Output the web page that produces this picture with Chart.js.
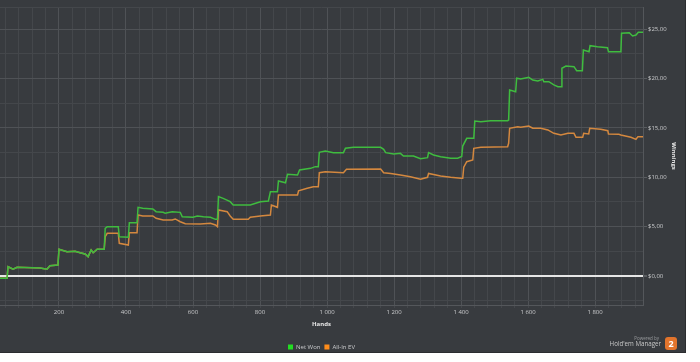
<!DOCTYPE html>
<html>
<head>
<meta charset="utf-8">
<title>Winnings</title>
<script src="https://cdn.jsdelivr.net/npm/chart.js@4"></script>
<style>
  body { margin: 0; background: #ffffff; }
  #panel {
    position: absolute; left: 0; top: 0;
    width: 686px; height: 353px;
    box-sizing: border-box;
    border-right: 1px solid #2b2d30;
    border-bottom: 1px solid #2b2d30;
    background: #383b3f;
    overflow: hidden;
    font-family: 'Open Sans', sans-serif;
  }
  #chart { position: absolute; left: 0; top: 0; }
  #logo { position: absolute; right: 4px; bottom: 0; width: 80px; height: 18px; }
  #logo .pw { position: absolute; right: 22px; top: 1px; font-size: 4.5px; color: #9a9c9f; }
  #logo .hm { position: absolute; right: 20px; top: 5px; font-size: 6.2px; color: #c8c8c8; white-space: nowrap; }
  #logo .badge {
    position: absolute; right: 4px; top: 3px; width: 12px; height: 13px;
    background: #e2742c; border-radius: 3px;
    color: #fff; font-weight: bold; font-size: 9px; line-height: 13px; text-align: center;
  }
</style>
</head>
<body>
<div id="panel">
  <canvas id="chart" width="685" height="360"></canvas>
  <div id="logo">
    <div class="pw">Powered by</div>
    <div class="hm">Hold'em Manager</div>
    <div class="badge">2</div>
  </div>
</div>
<script>
// hands played -> cumulative winnings ($)
const netWonHands = [24, 45, 48, 63, 75, 144, 164, 173, 197, 200, 224, 248, 263, 278, 287, 296, 302, 314, 335,
  338, 344, 377, 380, 407, 410, 433, 436, 450, 480, 490, 511, 517, 538, 562, 568, 600, 613, 631, 652, 667, 673,
  676, 690, 711, 720, 771, 780, 801, 825, 831, 852, 855, 876, 882, 912, 918, 951, 965, 974, 977, 995, 1019, 1049,
  1055, 1079, 1160, 1169, 1175, 1199, 1219, 1228, 1258, 1279, 1300, 1303, 1318, 1339, 1369, 1390, 1402, 1405,
  1417, 1438, 1441, 1459, 1488, 1539, 1542, 1545, 1563, 1566, 1578, 1602, 1614, 1629, 1644, 1647, 1662, 1677,
  1689, 1700, 1701, 1713, 1737, 1745, 1762, 1765, 1782, 1785, 1807, 1837, 1840, 1877, 1879, 1902, 1912, 1922,
  1929, 1943];
const netWonValues = [-0.23, -0.23, 0.94, 0.68, 0.88, 0.81, 0.68, 1.04, 1.11, 2.71, 2.46, 2.50, 2.35, 2.23, 1.96, 2.63, 2.36, 2.71, 2.71,
  4.83, 5.00, 5.00, 3.98, 3.92, 5.40, 5.40, 6.96, 6.86, 6.80, 6.52, 6.45, 6.35, 6.52, 6.45, 6.00, 5.95, 6.08, 6.00, 5.95, 5.74, 5.74,
  8.04, 7.87, 7.53, 7.20, 7.20, 7.30, 7.53, 7.60, 8.54, 8.54, 9.63, 9.45, 10.31, 10.24, 10.74, 10.91, 11.08, 11.08, 12.54, 12.67, 12.50, 12.50,
  12.94, 13.04, 13.04, 12.84, 12.50, 12.36, 12.43, 12.16, 12.16, 11.89, 11.99, 12.50, 12.26, 12.09, 11.93, 11.93, 12.11, 13.17,
  13.95, 13.95, 15.71, 15.64, 15.74, 15.74, 15.81, 18.85, 18.68, 20.04, 19.96, 20.14, 19.86, 19.76, 19.93, 19.69, 19.69, 19.36,
  19.18, 19.18, 21.05, 21.28, 21.21, 20.81, 20.81, 22.90, 22.73, 23.34, 23.24, 23.14, 22.73, 22.73, 24.60, 24.66, 24.32, 24.42,
  24.70, 24.70];

const allInHands = [24, 45, 48, 63, 75, 144, 164, 173, 197, 200, 224, 248, 263, 278, 287, 296, 302, 314, 335,
  338, 344, 377, 380, 407, 410, 433, 436, 450, 480, 490, 511, 538, 547, 562, 577, 622, 652, 667, 673,
  676, 702, 711, 720, 765, 771, 801, 831, 834, 852, 855, 882, 912, 915, 941, 959, 974, 977, 995, 1049, 1058,
  1160, 1169, 1190, 1219, 1249, 1279, 1300, 1303, 1339, 1369, 1399, 1405, 1408, 1417, 1435, 1438, 1459, 1539,
  1542, 1545, 1569, 1578, 1602, 1614, 1638, 1659, 1677, 1698, 1719, 1737, 1743, 1763, 1766, 1781, 1784, 1817,
  1838, 1840, 1871, 1877, 1907, 1922, 1928, 1943];
const allInValues = [-0.23, -0.23, 0.94, 0.68, 0.88, 0.81, 0.68, 1.04, 1.11, 2.71, 2.46, 2.50, 2.35, 2.23, 1.96, 2.63, 2.36, 2.71, 2.71,
  3.98, 4.33, 4.33, 3.31, 3.14, 4.39, 4.39, 6.18, 6.08, 6.08, 5.85, 5.68, 5.68, 5.78, 5.50, 5.30, 5.27, 5.34, 5.17, 5.00,
  6.69, 6.52, 6.08, 5.75, 5.75, 5.95, 6.08, 6.18, 7.20, 6.96, 8.21, 8.21, 8.21, 8.64, 8.89, 9.05, 9.05, 10.47, 10.57, 10.47, 10.81,
  10.84, 10.47, 10.39, 10.24, 10.06, 9.80, 10.00, 10.39, 10.13, 10.00, 9.90, 9.90, 11.02, 11.58, 11.76, 12.94, 13.04, 13.10,
  13.45, 14.97, 15.13, 15.07, 15.20, 14.97, 14.97, 14.80, 14.46, 14.29, 14.46, 14.46, 14.06, 14.06, 14.46, 14.39, 14.97, 14.87,
  14.72, 14.39, 14.36, 14.29, 14.06, 13.85, 14.12, 14.12];

// visible window and grid
const handsMin = 24, handsMax = 1943;
const winMin = -2.94, winMax = 27.26;
const handsGrid = [];
for (let h = 40; h <= 1920; h += 40) handsGrid.push(h);
const winGrid = [-2.5, 0, 2.5, 5, 7.5, 10, 12.5, 15, 17.5, 20, 22.5, 25];

const textColor = '#c9cacc';
const minorGrid = '#44474b';
const majorGrid = '#4f5256';
const tickFont = { family: "'Open Sans', sans-serif", size: 6 };

function fmtHands(v) {
  return String(v).replace(/\B(?=(\d{3})+(?!\d))/g, ' ');
}
function fmtMoney(v) {
  return '$' + v.toFixed(2).replace('.', ',');
}
function toPoints(xs, ys) {
  return xs.map((x, i) => ({ x: x, y: ys[i] }));
}

const legendBoxColors = ['#22dd22', '#ff8c1a'];

new Chart(document.getElementById('chart'), {
  type: 'line',
  data: {
    datasets: [
      {
        label: 'Net Won',
        data: toPoints(netWonHands, netWonValues),
        borderColor: '#3fbc3f',
        backgroundColor: '#3fbc3f',
        borderWidth: 1.5,
        pointRadius: 0,
        tension: 0
      },
      {
        label: 'All-In EV',
        data: toPoints(allInHands, allInValues),
        borderColor: '#d4883f',
        backgroundColor: '#d4883f',
        borderWidth: 1.5,
        pointRadius: 0,
        tension: 0
      }
    ]
  },
  options: {
    responsive: false,
    animation: false,
    events: [],
    layout: { padding: { top: 7, left: 0, right: 0, bottom: 0 } },
    plugins: {
      tooltip: { enabled: false },
      legend: {
        position: 'bottom',
        fullSize: false,
        labels: {
          color: textColor,
          font: tickFont,
          boxWidth: 5,
          boxHeight: 5,
          padding: 4,
          generateLabels: chart => Chart.defaults.plugins.legend.labels.generateLabels(chart)
            .map((l, i) => Object.assign(l, { fillStyle: legendBoxColors[i], lineWidth: 0 }))
        }
      }
    },
    scales: {
      x: {
        type: 'linear',
        min: handsMin,
        max: handsMax,
        afterBuildTicks: s => { s.ticks = handsGrid.map(v => ({ value: v })); },
        afterFit: s => { s.height = 35; },
        grid: {
          color: c => (c.tick && c.tick.value % 200 === 0) ? majorGrid : minorGrid,
          tickColor: minorGrid,
          tickLength: 3
        },
        border: { display: true, color: '#54575b' },
        ticks: {
          autoSkip: false,
          maxRotation: 0,
          padding: 1,
          color: textColor,
          font: tickFont,
          callback: v => v % 200 === 0 ? fmtHands(v) : ''
        },
        title: {
          display: true,
          text: 'Hands',
          color: '#e8e8e8',
          font: { family: "'Open Sans', sans-serif", size: 6, weight: 'bold' },
          padding: { top: 0, bottom: 12 }
        }
      },
      y: {
        position: 'right',
        min: winMin,
        max: winMax,
        afterBuildTicks: s => { s.ticks = winGrid.map(v => ({ value: v })).concat([{ value: s.max }]); },
        afterFit: s => { s.width = 42; },
        grid: {
          color: c => {
            if (!c.tick) return minorGrid;
            if (c.tick.value === 0) return '#e6e6e6';
            return c.tick.value % 5 === 0 ? majorGrid : minorGrid;
          },
          lineWidth: c => (c.tick && c.tick.value === 0) ? 2 : 1,
          tickColor: c => (c.tick && c.tick.value % 5 === 0) ? '#5a5d61' : 'rgba(0,0,0,0)',
          tickLength: 4
        },
        border: { display: true, color: '#54575b' },
        ticks: {
          padding: 1,
          color: textColor,
          font: tickFont,
          callback: v => v % 5 === 0 ? fmtMoney(v) : ''
        },
        title: {
          display: true,
          text: 'Winnings',
          color: '#e8e8e8',
          font: { family: "'Open Sans', sans-serif", size: 6, weight: 'bold' },
          padding: { top: 8, bottom: 0 }
        }
      }
    }
  }
});
</script>
</body>
</html>
